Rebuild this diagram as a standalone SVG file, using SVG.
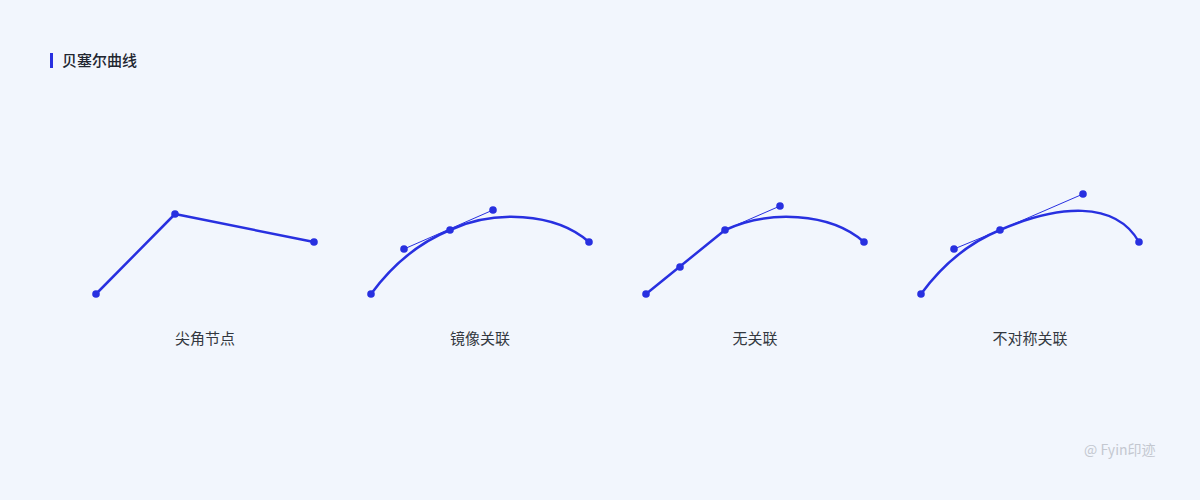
<svg xmlns="http://www.w3.org/2000/svg" width="1200" height="500" viewBox="0 0 1200 500">
<style>
.curve{fill:none;stroke:#2830e0;stroke-width:2.5;stroke-linecap:round;stroke-linejoin:round}
.handle{fill:none;stroke:#2830e0;stroke-width:1}
.pt{fill:#2830e0}
.label{font-family:"Noto Sans CJK SC","Noto Sans",sans-serif;font-size:15px;fill:#333840;text-anchor:middle}
.title{font-family:"Noto Sans CJK SC","Noto Sans",sans-serif;font-size:15px;font-weight:500;fill:#222630}
.wm{font-family:"Noto Sans CJK SC","Noto Sans",sans-serif;font-size:14px;fill:#c4c8d0}
</style>
<rect width="1200" height="500" fill="#f2f6fd"/>
<rect x="50" y="53" width="3" height="15" fill="#2830e0"/>
<text class="title" x="62" y="66">贝塞尔曲线</text>

<g id="connectors">
<polyline class="curve" points="96,294 175,214 314,242"/>
<path class="curve" d="M371,294 Q404,249 450,230 C493,210 555,212 589,242"/>
<line class="handle" x1="404" y1="249" x2="493" y2="210"/>
<path class="curve" d="M646,294 L725,230 C768,210 830,212 864,242"/>
<line class="handle" x1="725" y1="230" x2="780" y2="206"/>
<path class="curve" d="M921,294 Q954,249 1000,230 C1058,205 1115,200 1139,242"/>
<line class="handle" x1="954" y1="249" x2="1000" y2="230"/>
<line class="handle" x1="1000" y1="230" x2="1083" y2="194"/>
</g>

<g id="node-sharp">
<circle class="pt" cx="96" cy="294" r="3.8"/>
<circle class="pt" cx="175" cy="214" r="3.8"/>
<circle class="pt" cx="314" cy="242" r="3.8"/>
<text class="label" x="205" y="344">尖角节点</text>
</g>
<g id="node-mirror">
<circle class="pt" cx="371" cy="294" r="3.8"/>
<circle class="pt" cx="404" cy="249" r="3.8"/>
<circle class="pt" cx="450" cy="230" r="3.8"/>
<circle class="pt" cx="493" cy="210" r="3.8"/>
<circle class="pt" cx="589" cy="242" r="3.8"/>
<text class="label" x="480" y="344">镜像关联</text>
</g>
<g id="node-none">
<circle class="pt" cx="646" cy="294" r="3.8"/>
<circle class="pt" cx="680" cy="267" r="3.8"/>
<circle class="pt" cx="725" cy="230" r="3.8"/>
<circle class="pt" cx="780" cy="206" r="3.8"/>
<circle class="pt" cx="864" cy="242" r="3.8"/>
<text class="label" x="755" y="344">无关联</text>
</g>
<g id="node-asym">
<circle class="pt" cx="921" cy="294" r="3.8"/>
<circle class="pt" cx="954" cy="249" r="3.8"/>
<circle class="pt" cx="1000" cy="230" r="3.8"/>
<circle class="pt" cx="1083" cy="194" r="3.8"/>
<circle class="pt" cx="1139" cy="242" r="3.8"/>
<text class="label" x="1030" y="344">不对称关联</text>
</g>
<text class="wm" x="1084" y="455">@ Fyin印迹</text>
</svg>
